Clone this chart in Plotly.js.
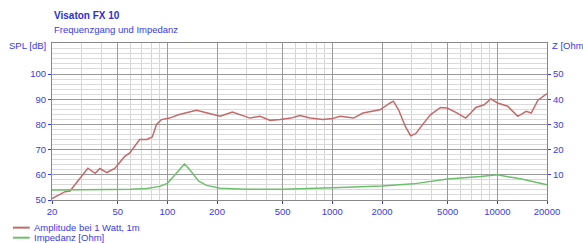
<!DOCTYPE html>
<html>
<head>
<meta charset="utf-8">
<script src="https://cdn.plot.ly/plotly-3.0.1.min.js"></script>
<style>html,body{margin:0;padding:0;background:#fff;}#chart{width:583px;height:243px;}</style>
</head>
<body>
<div id="chart"></div>
<script>
// Frequency response (SPL, dB)
var splFreq = [20, 22, 24, 25.7, 29, 33, 36.5, 39, 43, 48, 55, 59, 68, 75, 81, 86, 92, 103, 118, 150, 175, 209, 248, 317, 365, 420, 483, 560, 636, 734, 876, 1000, 1113, 1345, 1534, 1945, 2240, 2345, 2520, 2770, 2980, 3200, 3590, 3940, 4530, 4970, 5720, 6430, 6900, 7400, 8310, 9130, 10030, 11550, 13290, 14950, 16040, 17620, 20000];
var splValues = [50.6, 52.0, 53.3, 53.6, 58.0, 62.6, 60.6, 62.5, 60.9, 62.5, 67.2, 68.6, 74.0, 74.0, 75.0, 80.0, 81.9, 82.5, 83.9, 85.6, 84.5, 83.2, 84.9, 82.5, 83.2, 81.6, 81.9, 82.5, 83.5, 82.5, 81.9, 82.3, 83.2, 82.5, 84.5, 85.8, 88.5, 89.2, 85.8, 79.2, 75.5, 76.3, 80.6, 83.9, 86.7, 86.5, 84.5, 82.5, 84.5, 86.7, 87.8, 90.1, 88.5, 87.2, 83.2, 85.2, 84.5, 89.6, 92.2];
// Impedance (Ohm)
var zFreq = [20, 30, 45, 60, 75, 90, 100, 108, 118, 127, 136, 144, 155, 173, 209, 300, 500, 1000, 2000, 3100, 5000, 7930, 10000, 14000, 20000];
var zValues = [4.0, 4.0, 4.2, 4.3, 4.6, 5.4, 6.6, 9.0, 12.0, 14.3, 12.2, 10.0, 7.5, 5.8, 4.7, 4.3, 4.3, 4.9, 5.6, 6.4, 8.3, 9.3, 10.0, 8.3, 6.0];
// Tick labels
var xTickVals = [20, 50, 100, 200, 500, 1000, 2000, 5000, 10000, 20000];
var xTickText = ['20', '50', '100', '200', '500', '1000', '2000', '5000', '10000', '20000'];
var ySplTicks = [50, 60, 70, 80, 90, 100];
var yZTicks = [10, 20, 30, 40, 50];
var seriesNames = ['Amplitude bei 1 Watt, 1m', 'Impedanz [Ohm]'];
var seriesColors = ['#c46a6a', '#6cc06c'];
var titleText = 'Visaton FX 10';
var subtitleText = 'Frequenzgang und Impedanz';
var leftAxisTitle = 'SPL [dB]';
var rightAxisTitle = 'Z [Ohm]';

var minorX = [];
[10, 100, 1000, 10000].forEach(function (d) {
  for (var k = 2; k <= 9; k++) { var v = d * k; if (v >= 20 && v <= 20000) minorX.push(v); }
});

var blue = '#3a3ae6';
var fam = 'Liberation Sans, Arial, sans-serif';
var font = {family: fam, size: 9.5, color: blue};

var traces = [
  {x: splFreq, y: splValues, name: seriesNames[0], type: 'scatter', mode: 'lines',
   line: {color: seriesColors[0], width: 1.5}, yaxis: 'y', showlegend: false},
  {x: zFreq, y: zValues, name: seriesNames[1], type: 'scatter', mode: 'lines',
   line: {color: seriesColors[1], width: 1.5}, yaxis: 'y2', showlegend: false}
];

// compact legend (sample line + label) below the plot, in paper coordinates
var legendRowsY = [-0.176, -0.240];
var shapes = [];
var legendAnn = [];
seriesNames.forEach(function (n, i) {
  shapes.push({type: 'line', xref: 'paper', yref: 'paper', x0: -0.079, x1: -0.045,
               y0: legendRowsY[i], y1: legendRowsY[i], line: {color: seriesColors[i], width: 2}});
  legendAnn.push({text: n, xref: 'paper', yref: 'paper', x: -0.041, y: legendRowsY[i],
                  xanchor: 'left', yanchor: 'middle', showarrow: false,
                  font: {family: fam, size: 9.5, color: blue}});
});

var layout = {
  width: 583, height: 243,
  margin: {l: 52, r: 36, t: 43, b: 43, pad: 0, autoexpand: false},
  paper_bgcolor: '#ffffff', plot_bgcolor: '#ffffff',
  font: font,
  showlegend: false,
  xaxis: {type: 'log', range: [Math.log10(20), Math.log10(20000)],
          tickvals: xTickVals, ticktext: xTickText, ticks: 'outside', ticklen: 3, tickcolor: blue,
          showgrid: true, gridcolor: '#9a9a9a', gridwidth: 1,
          minor: {tickvals: minorX, showgrid: true, gridcolor: '#d6d6d6', ticks: ''},
          showline: true, linecolor: '#888', mirror: true, zeroline: false,
          tickfont: font},
  yaxis: {range: [50, 112.3], tickvals: ySplTicks, ticks: 'outside', ticklen: 3, tickcolor: blue,
          showgrid: true, gridcolor: '#9a9a9a',
          minor: {dtick: 2, showgrid: true, gridcolor: '#dadada', ticks: ''},
          showline: true, linecolor: '#888', zeroline: false, tickfont: font},
  yaxis2: {range: [0, 62.3], overlaying: 'y', side: 'right', tickvals: yZTicks, ticks: 'outside', ticklen: 3,
           tickcolor: blue, showgrid: false, zeroline: false, showline: true, linecolor: '#888', tickfont: font},
  shapes: shapes,
  annotations: [
    {text: '<b>' + titleText + '</b>', xref: 'paper', yref: 'paper', x: 0, y: 1.172, xanchor: 'left', yanchor: 'middle',
     showarrow: false, font: {family: fam, size: 10, color: '#2f2fd8'}},
    {text: subtitleText, xref: 'paper', yref: 'paper', x: 0, y: 1.089, xanchor: 'left', yanchor: 'middle',
     showarrow: false, font: {family: fam, size: 9.5, color: blue}},
    {text: leftAxisTitle, xref: 'paper', yref: 'paper', x: -0.008, y: 0.981, xanchor: 'right', yanchor: 'middle',
     showarrow: false, font: font},
    {text: rightAxisTitle, xref: 'paper', yref: 'paper', x: 1.006, y: 0.981, xanchor: 'left', yanchor: 'middle',
     showarrow: false, font: font}
  ].concat(legendAnn)
};

Plotly.newPlot('chart', traces, layout, {displayModeBar: false, staticPlot: true});
</script>
</body>
</html>
